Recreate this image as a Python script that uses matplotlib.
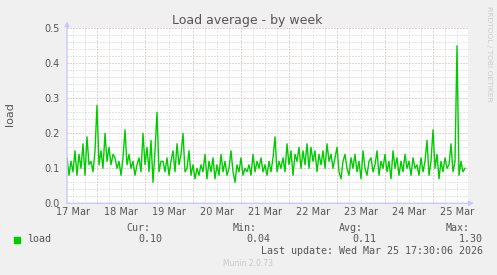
import numpy as np
import matplotlib.pyplot as plt
from matplotlib.patches import Rectangle

# time axis in day-of-month units (March), one value per hour
t_start = 17.381
t_end = 25.735
load = [
    0.13, 0.08, 0.12, 0.09, 0.15, 0.08, 0.14, 0.10, 0.17, 0.08, 0.19, 0.11,
    0.12, 0.09, 0.15, 0.28, 0.11, 0.15, 0.10, 0.20, 0.12, 0.16, 0.11, 0.14,
    0.13, 0.10, 0.12, 0.08, 0.13, 0.21, 0.11, 0.14, 0.10, 0.12, 0.08, 0.11,
    0.13, 0.09, 0.20, 0.11, 0.16, 0.09, 0.18, 0.06, 0.15, 0.26, 0.09, 0.12,
    0.12, 0.09, 0.13, 0.08, 0.12, 0.15, 0.09, 0.17, 0.11, 0.14, 0.20, 0.09,
    0.10, 0.15, 0.08, 0.11, 0.07, 0.10, 0.08, 0.11, 0.09, 0.14, 0.07, 0.12,
    0.09, 0.13, 0.07, 0.11, 0.08, 0.14, 0.09, 0.12, 0.08, 0.10, 0.15, 0.09,
    0.06, 0.11, 0.09, 0.13, 0.08, 0.10, 0.09, 0.11, 0.08, 0.14, 0.09, 0.12,
    0.10, 0.13, 0.09, 0.11, 0.08, 0.12, 0.09, 0.13, 0.19, 0.09, 0.12, 0.10,
    0.13, 0.09, 0.17, 0.11, 0.15, 0.08, 0.14, 0.12, 0.16, 0.10, 0.15, 0.11,
    0.17, 0.10, 0.16, 0.12, 0.15, 0.09, 0.14, 0.11, 0.15, 0.10, 0.17, 0.12,
    0.14, 0.10, 0.13, 0.16, 0.09, 0.07, 0.12, 0.14, 0.10, 0.08, 0.13, 0.10,
    0.14, 0.09, 0.12, 0.07, 0.15, 0.10, 0.08, 0.12, 0.13, 0.09, 0.11, 0.15,
    0.08, 0.12, 0.10, 0.14, 0.09, 0.12, 0.07, 0.15, 0.10, 0.13, 0.08, 0.12,
    0.09, 0.14, 0.10, 0.12, 0.08, 0.13, 0.10, 0.11, 0.08, 0.13, 0.09, 0.12,
    0.18, 0.08, 0.12, 0.21, 0.10, 0.14, 0.07, 0.12, 0.09, 0.13, 0.10, 0.11,
    0.17, 0.09, 0.12, 0.45, 0.08, 0.12, 0.09, 0.10,
]
day_labels = ['17 Mar', '18 Mar', '19 Mar', '20 Mar', '21 Mar',
              '22 Mar', '23 Mar', '24 Mar', '25 Mar']
day_label_pos = [17.5, 18.5, 19.5, 20.5, 21.5, 22.5, 23.5, 24.5, 25.5]
y_ticks = [0.0, 0.1, 0.2, 0.3, 0.4, 0.5]
stat_names = ['Cur:', 'Min:', 'Avg:', 'Max:']
stat_values = ['0.10', '0.04', '0.11', '1.30']
last_update = 'Last update: Wed Mar 25 17:30:06 2026'

W, H = 497, 275
def fx(x):
    return x / W
def fy(y):
    return 1 - y / H

GREY = '#555555'
MINOR = '#CCCCCC'
MAJOR = '#DDA0A0'
fig = plt.figure(figsize=(W / 100, H / 100), dpi=100, facecolor='#F0F0F0')
ax = fig.add_axes([fx(67), fy(203.3), (468 - 67) / W, (203.3 - 28.3) / H])
ax.set_facecolor('white')
ax.set_xlim(t_start, t_end)
ax.set_ylim(0, 0.5)
for s in ax.spines.values():
    s.set_visible(False)

# grid
for d in np.arange(17.5, t_end, 0.25):
    if abs(d - round(d)) > 1e-6:
        ax.axvline(d, color=MINOR, lw=0.72, ls=(0, (1, 2)), zorder=1)
for d in range(18, 26):
    ax.axvline(d, color=MAJOR, lw=0.72, ls=(0, (1, 2)), zorder=1.5)
for v in np.arange(0.02, 0.5, 0.02):
    if abs(v * 10 - round(v * 10)) > 1e-6:
        ax.axhline(v, color=MINOR, lw=0.72, ls=(0, (1, 2)), zorder=1)
for v in y_ticks[1:]:
    ax.axhline(v, color=MAJOR, lw=0.72, ls=(0, (1, 2)), zorder=1.5)

t = t_start + np.arange(len(load)) / 24.0
ax.plot(t, load, color='#00CC00', lw=1.0, zorder=3)

ax.set_xticks(day_label_pos)
ax.set_xticklabels(day_labels)
ax.set_yticks(y_ticks)
ax.set_yticklabels(['%.1f' % v for v in y_ticks])
ax.tick_params(length=0, labelsize=7, colors=GREY)
ax.tick_params(axis='y', pad=5)
ax.tick_params(axis='x', pad=3)

# axis arrows
arrow = dict(arrowstyle='-|>', color='#C8C8FF', lw=1, mutation_scale=7,
             shrinkA=0, shrinkB=0)
ax.annotate('', xy=(1.015, 0), xytext=(0, 0), xycoords='axes fraction',
            arrowprops=arrow, annotation_clip=False)
ax.annotate('', xy=(0, 1.04), xytext=(0, 0), xycoords='axes fraction',
            arrowprops=arrow, annotation_clip=False)

fig.text(fx(247.5), fy(24), 'Load average - by week', ha='center',
         va='baseline', fontsize=9, color=GREY)
fig.text(fx(10.5), fy(114.5), 'load', rotation=90, ha='center',
         va='center', fontsize=8, color=GREY)
fig.text(fx(489), fy(53.5), 'RRDTOOL / TOBI OETIKER', rotation=-90,
         ha='center', va='center', fontsize=5.4, color='#CCCCCC')

# legend block
mono = 'DejaVu Sans Mono'
fig.patches.append(Rectangle((fx(14), fy(242.7)), 6 / W, 6 / H,
                             transform=fig.transFigure, color='#00CC00'))
fig.text(fx(26.7), fy(239.5), 'load', family=mono, fontsize=7.2,
         color=GREY, va='center')
name_right = [150, 257, 363, 470]
value_right = [162, 270, 376, 483]
for name, val, nr, vr in zip(stat_names, stat_values, name_right, value_right):
    fig.text(fx(nr), fy(227.7), name, family=mono, fontsize=7.2,
             color=GREY, ha='right', va='center')
    fig.text(fx(vr), fy(239.3), val, family=mono, fontsize=7.2,
             color=GREY, ha='right', va='center')
fig.text(fx(483), fy(251), last_update, family=mono, fontsize=7.2,
         color=GREY, ha='right', va='center')
fig.text(fx(248), fy(264), 'Munin 2.0.73', fontsize=5.5, color='#C8C8C8',
         ha='center', va='center')

fig.savefig('out.png', dpi=100, facecolor=fig.get_facecolor())
